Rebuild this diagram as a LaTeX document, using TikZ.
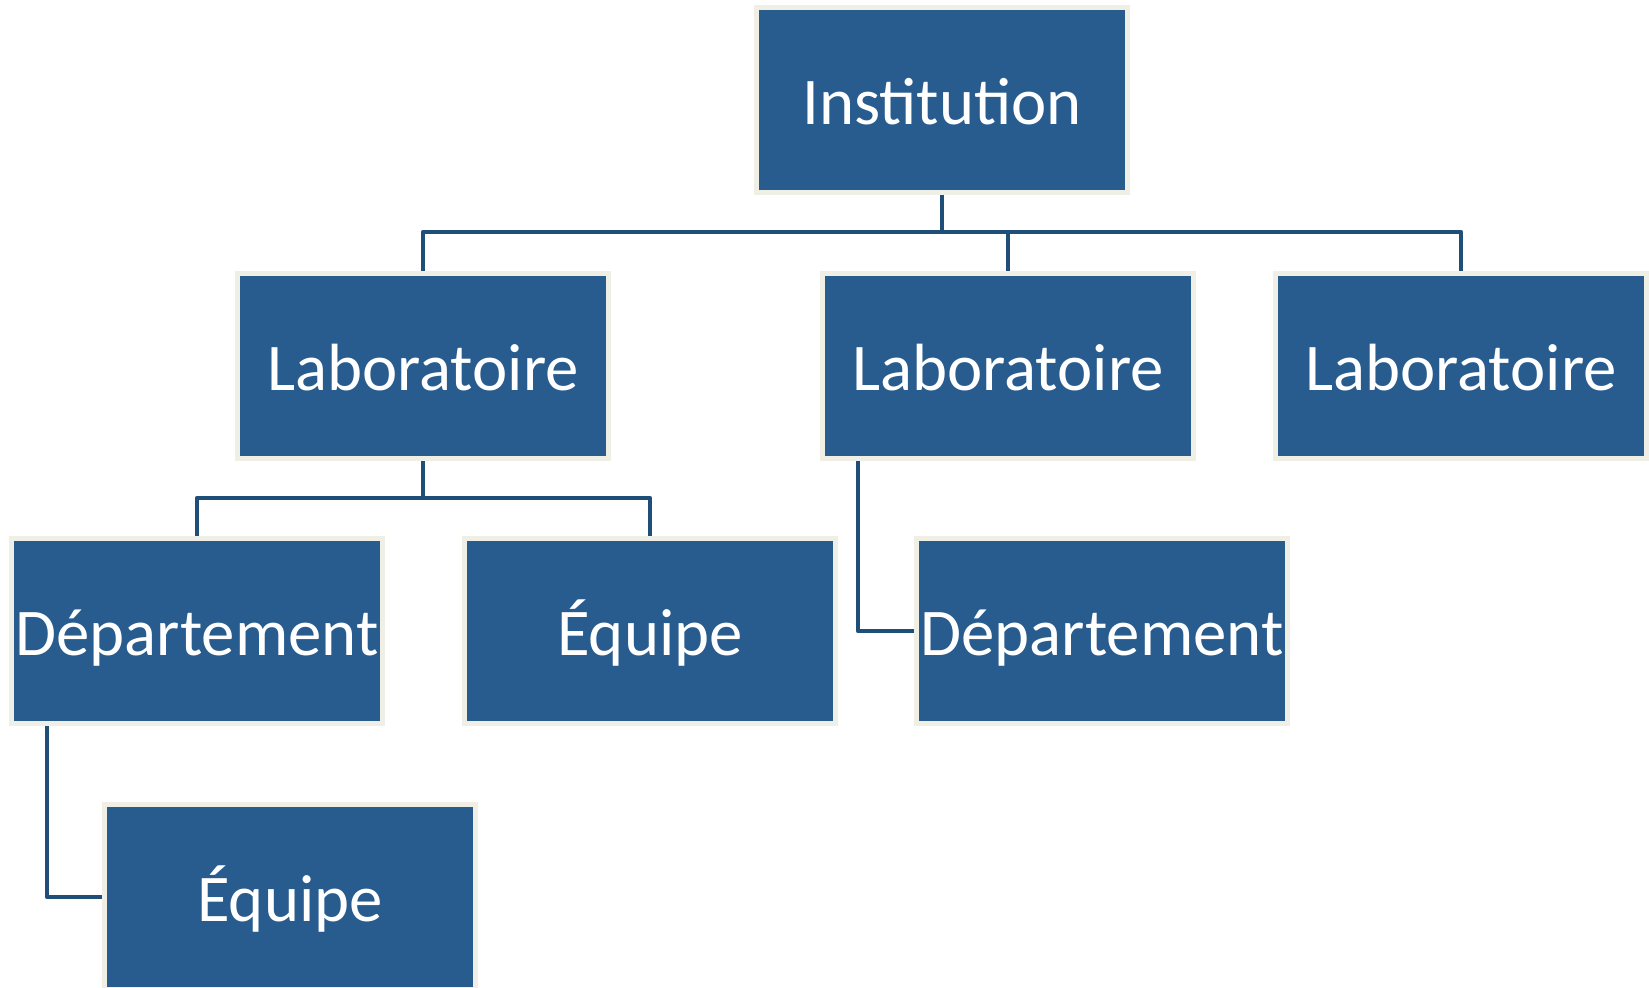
\documentclass[tikz,border=0pt]{standalone}
\usepackage{fontspec}
\setmainfont{Carlito}
\definecolor{boxblue}{HTML}{285C8E}
\definecolor{boxedge}{HTML}{F0EFE6}
\definecolor{linkblue}{HTML}{1F4E79}
\begin{document}
\begin{tikzpicture}[x=0.02cm,y=-0.02cm,
  orgbox/.style={draw=boxedge,fill=boxblue,line width=0.1cm,
    minimum width=7.44cm,minimum height=3.72cm,inner sep=0pt,
    text height=28.4pt,text depth=0pt,
    text=white,font=\fontsize{38}{45}\selectfont},
  conn/.style={draw=linkblue,line width=0.095cm,line join=round}]
\useasboundingbox (0,0) rectangle (1649,987);
\begin{scope}
\clip (0,0) rectangle (1649,987);
\node[orgbox] (inst) at (942,100) {Institution};
\node[orgbox] (lab1) at (423,366) {Laboratoire};
\node[orgbox] (lab2) at (1008,366) {Laboratoire};
\node[orgbox] (lab3) at (1461,366) {Laboratoire};
\node[orgbox] (dep1) at (197,631) {Département};
\node[orgbox] (eq1) at (650,631) {Équipe};
\node[orgbox] (dep2) at (1102,631) {Département};
\node[orgbox] (eq2) at (290,897) {Équipe};
\coordinate (j1) at (942,232);
\coordinate (j2) at (423,498);
\coordinate (k2) at (858,0);
\coordinate (k3) at (47,0);
\draw[conn] (inst.south) -- (j1) -| (lab1.north);
\draw[conn] (j1) -| (lab2.north);
\draw[conn] (j1) -| (lab3.north);
\draw[conn] (lab1.south) -- (j2) -| (dep1.north);
\draw[conn] (j2) -| (eq1.north);
\draw[conn] (lab2.south -| k2) |- (dep2.west);
\draw[conn] (dep1.south -| k3) |- (eq2.west);
\end{scope}
\end{tikzpicture}
\end{document}
